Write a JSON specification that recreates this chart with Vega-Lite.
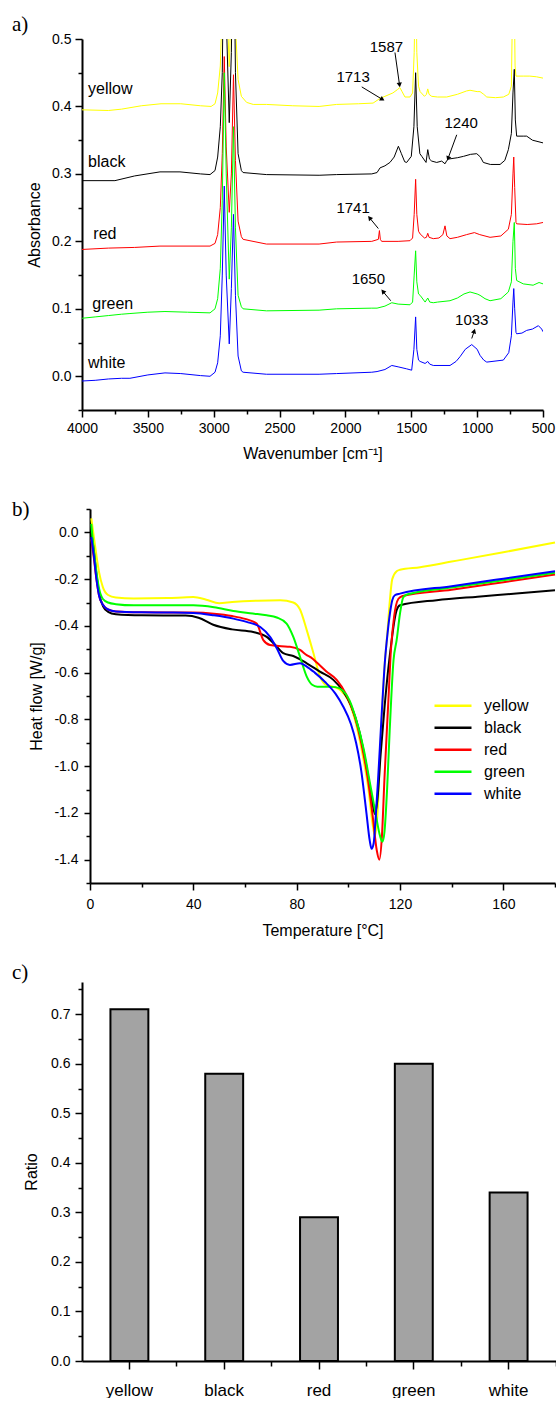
{
  "$schema": "https://vega.github.io/schema/vega-lite/v6.json",
  "padding": {"left": 12, "top": 14, "right": 0, "bottom": 0},
  "autosize": {"type": "pad"},
  "spacing": 99,
  "bounds": "flush",
  "config": {
    "view": {"stroke": null},
    "locale": {"number": {"decimal": ".", "thousands": ",", "grouping": [3], "currency": ["$", ""], "minus": "-"}},
    "axis": {"grid": false, "labelFlush": false, "domainColor": "#000", "domainWidth": 2, "tickColor": "#000", "tickWidth": 1.5, "labelColor": "#000", "labelFont": "Liberation Sans", "labelFontSize": 14, "titleFont": "Liberation Sans", "titleFontSize": 16, "titleFontWeight": "normal", "titleColor": "#000"},
    "title": {"font": "Liberation Serif", "fontSize": 21, "fontWeight": "normal", "color": "#000", "anchor": "start", "frame": "group", "baseline": "alphabetic"},
    "text": {"font": "Liberation Sans", "color": "#000"}
  },
  "resolve": {"scale": {"color": "independent"}, "legend": {"color": "independent"}},
  "datasets": {
    "ir": [
      {"s":"yellow","wn":4000,"a":0.395},{"s":"yellow","wn":3800,"a":0.394},{"s":"yellow","wn":3700,"a":0.396},{"s":"yellow","wn":3550,"a":0.401},{"s":"yellow","wn":3400,"a":0.404},{"s":"yellow","wn":3250,"a":0.404},{"s":"yellow","wn":3100,"a":0.401},{"s":"yellow","wn":3020,"a":0.4},{"s":"yellow","wn":2990,"a":0.404},{"s":"yellow","wn":2970,"a":0.42},{"s":"yellow","wn":2950,"a":0.46},{"s":"yellow","wn":2935,"a":0.55},{"s":"yellow","wn":2920,"a":0.75},{"s":"yellow","wn":2900,"a":0.55},{"s":"yellow","wn":2882,"a":0.459},{"s":"yellow","wn":2868,"a":0.55},{"s":"yellow","wn":2850,"a":0.75},{"s":"yellow","wn":2835,"a":0.52},{"s":"yellow","wn":2815,"a":0.44},{"s":"yellow","wn":2790,"a":0.415},{"s":"yellow","wn":2750,"a":0.406},{"s":"yellow","wn":2700,"a":0.403},{"s":"yellow","wn":2600,"a":0.403},{"s":"yellow","wn":2400,"a":0.401},{"s":"yellow","wn":2200,"a":0.4},{"s":"yellow","wn":2067,"a":0.403},{"s":"yellow","wn":1900,"a":0.404},{"s":"yellow","wn":1790,"a":0.405},{"s":"yellow","wn":1737,"a":0.412},{"s":"yellow","wn":1700,"a":0.415},{"s":"yellow","wn":1640,"a":0.42},{"s":"yellow","wn":1605,"a":0.425},{"s":"yellow","wn":1587,"a":0.428},{"s":"yellow","wn":1570,"a":0.422},{"s":"yellow","wn":1548,"a":0.414},{"s":"yellow","wn":1510,"a":0.414},{"s":"yellow","wn":1490,"a":0.42},{"s":"yellow","wn":1478,"a":0.48},{"s":"yellow","wn":1467,"a":0.6},{"s":"yellow","wn":1458,"a":0.48},{"s":"yellow","wn":1445,"a":0.43},{"s":"yellow","wn":1433,"a":0.422},{"s":"yellow","wn":1400,"a":0.415},{"s":"yellow","wn":1385,"a":0.418},{"s":"yellow","wn":1375,"a":0.426},{"s":"yellow","wn":1365,"a":0.418},{"s":"yellow","wn":1345,"a":0.415},{"s":"yellow","wn":1300,"a":0.414},{"s":"yellow","wn":1231,"a":0.414},{"s":"yellow","wn":1150,"a":0.418},{"s":"yellow","wn":1080,"a":0.423},{"s":"yellow","wn":1054,"a":0.424},{"s":"yellow","wn":1000,"a":0.422},{"s":"yellow","wn":978,"a":0.422},{"s":"yellow","wn":950,"a":0.418},{"s":"yellow","wn":927,"a":0.414},{"s":"yellow","wn":860,"a":0.413},{"s":"yellow","wn":801,"a":0.414},{"s":"yellow","wn":760,"a":0.418},{"s":"yellow","wn":740,"a":0.43},{"s":"yellow","wn":728,"a":0.6},{"s":"yellow","wn":720,"a":0.6},{"s":"yellow","wn":712,"a":0.46},{"s":"yellow","wn":705,"a":0.445},{"s":"yellow","wn":650,"a":0.445},{"s":"yellow","wn":600,"a":0.445},{"s":"yellow","wn":550,"a":0.444},{"s":"yellow","wn":500,"a":0.442},
      {"s":"black","wn":4000,"a":0.29},{"s":"black","wn":3750,"a":0.29},{"s":"black","wn":3600,"a":0.297},{"s":"black","wn":3408,"a":0.303},{"s":"black","wn":3256,"a":0.303},{"s":"black","wn":3100,"a":0.3},{"s":"black","wn":3028,"a":0.299},{"s":"black","wn":2990,"a":0.305},{"s":"black","wn":2970,"a":0.325},{"s":"black","wn":2950,"a":0.37},{"s":"black","wn":2935,"a":0.45},{"s":"black","wn":2920,"a":0.7},{"s":"black","wn":2900,"a":0.5},{"s":"black","wn":2882,"a":0.376},{"s":"black","wn":2866,"a":0.48},{"s":"black","wn":2850,"a":0.7},{"s":"black","wn":2835,"a":0.45},{"s":"black","wn":2815,"a":0.33},{"s":"black","wn":2790,"a":0.305},{"s":"black","wn":2777,"a":0.302},{"s":"black","wn":2600,"a":0.299},{"s":"black","wn":2200,"a":0.298},{"s":"black","wn":2067,"a":0.299},{"s":"black","wn":1800,"a":0.3},{"s":"black","wn":1760,"a":0.302},{"s":"black","wn":1737,"a":0.309},{"s":"black","wn":1700,"a":0.312},{"s":"black","wn":1662,"a":0.317},{"s":"black","wn":1630,"a":0.325},{"s":"black","wn":1598,"a":0.341},{"s":"black","wn":1575,"a":0.33},{"s":"black","wn":1550,"a":0.318},{"s":"black","wn":1535,"a":0.317},{"s":"black","wn":1500,"a":0.326},{"s":"black","wn":1480,"a":0.37},{"s":"black","wn":1467,"a":0.45},{"s":"black","wn":1455,"a":0.37},{"s":"black","wn":1435,"a":0.33},{"s":"black","wn":1420,"a":0.326},{"s":"black","wn":1388,"a":0.317},{"s":"black","wn":1375,"a":0.336},{"s":"black","wn":1362,"a":0.322},{"s":"black","wn":1345,"a":0.319},{"s":"black","wn":1307,"a":0.317},{"s":"black","wn":1269,"a":0.319},{"s":"black","wn":1244,"a":0.315},{"s":"black","wn":1230,"a":0.32},{"s":"black","wn":1218,"a":0.322},{"s":"black","wn":1150,"a":0.324},{"s":"black","wn":1104,"a":0.326},{"s":"black","wn":1050,"a":0.329},{"s":"black","wn":1003,"a":0.33},{"s":"black","wn":975,"a":0.325},{"s":"black","wn":953,"a":0.317},{"s":"black","wn":900,"a":0.314},{"s":"black","wn":826,"a":0.314},{"s":"black","wn":790,"a":0.32},{"s":"black","wn":763,"a":0.336},{"s":"black","wn":740,"a":0.36},{"s":"black","wn":728,"a":0.42},{"s":"black","wn":718,"a":0.455},{"s":"black","wn":710,"a":0.38},{"s":"black","wn":700,"a":0.356},{"s":"black","wn":650,"a":0.356},{"s":"black","wn":624,"a":0.356},{"s":"black","wn":580,"a":0.35},{"s":"black","wn":500,"a":0.346},
      {"s":"red","wn":4000,"a":0.188},{"s":"red","wn":3800,"a":0.19},{"s":"red","wn":3600,"a":0.191},{"s":"red","wn":3408,"a":0.193},{"s":"red","wn":3028,"a":0.193},{"s":"red","wn":2990,"a":0.197},{"s":"red","wn":2970,"a":0.21},{"s":"red","wn":2950,"a":0.25},{"s":"red","wn":2935,"a":0.33},{"s":"red","wn":2920,"a":0.474},{"s":"red","wn":2905,"a":0.34},{"s":"red","wn":2882,"a":0.243},{"s":"red","wn":2866,"a":0.3},{"s":"red","wn":2850,"a":0.447},{"s":"red","wn":2835,"a":0.32},{"s":"red","wn":2815,"a":0.23},{"s":"red","wn":2790,"a":0.207},{"s":"red","wn":2777,"a":0.203},{"s":"red","wn":2600,"a":0.196},{"s":"red","wn":2200,"a":0.196},{"s":"red","wn":2067,"a":0.199},{"s":"red","wn":1800,"a":0.2},{"s":"red","wn":1750,"a":0.203},{"s":"red","wn":1742,"a":0.216},{"s":"red","wn":1735,"a":0.203},{"s":"red","wn":1725,"a":0.2},{"s":"red","wn":1600,"a":0.2},{"s":"red","wn":1510,"a":0.201},{"s":"red","wn":1490,"a":0.205},{"s":"red","wn":1478,"a":0.24},{"s":"red","wn":1467,"a":0.292},{"s":"red","wn":1458,"a":0.24},{"s":"red","wn":1445,"a":0.215},{"s":"red","wn":1433,"a":0.211},{"s":"red","wn":1400,"a":0.205},{"s":"red","wn":1385,"a":0.206},{"s":"red","wn":1375,"a":0.212},{"s":"red","wn":1365,"a":0.206},{"s":"red","wn":1333,"a":0.204},{"s":"red","wn":1290,"a":0.205},{"s":"red","wn":1260,"a":0.21},{"s":"red","wn":1244,"a":0.223},{"s":"red","wn":1230,"a":0.208},{"s":"red","wn":1206,"a":0.204},{"s":"red","wn":1150,"a":0.206},{"s":"red","wn":1080,"a":0.21},{"s":"red","wn":1021,"a":0.213},{"s":"red","wn":980,"a":0.21},{"s":"red","wn":902,"a":0.206},{"s":"red","wn":820,"a":0.208},{"s":"red","wn":763,"a":0.218},{"s":"red","wn":740,"a":0.24},{"s":"red","wn":728,"a":0.3},{"s":"red","wn":722,"a":0.325},{"s":"red","wn":715,"a":0.28},{"s":"red","wn":705,"a":0.228},{"s":"red","wn":700,"a":0.226},{"s":"red","wn":620,"a":0.225},{"s":"red","wn":548,"a":0.226},{"s":"red","wn":500,"a":0.228},
      {"s":"green","wn":4000,"a":0.086},{"s":"green","wn":3900,"a":0.088},{"s":"green","wn":3800,"a":0.09},{"s":"green","wn":3700,"a":0.092},{"s":"green","wn":3636,"a":0.093},{"s":"green","wn":3500,"a":0.095},{"s":"green","wn":3370,"a":0.096},{"s":"green","wn":3200,"a":0.095},{"s":"green","wn":3028,"a":0.094},{"s":"green","wn":2990,"a":0.1},{"s":"green","wn":2970,"a":0.115},{"s":"green","wn":2950,"a":0.16},{"s":"green","wn":2935,"a":0.26},{"s":"green","wn":2920,"a":0.45},{"s":"green","wn":2905,"a":0.3},{"s":"green","wn":2882,"a":0.144},{"s":"green","wn":2866,"a":0.22},{"s":"green","wn":2850,"a":0.37},{"s":"green","wn":2835,"a":0.22},{"s":"green","wn":2815,"a":0.12},{"s":"green","wn":2790,"a":0.103},{"s":"green","wn":2777,"a":0.1},{"s":"green","wn":2600,"a":0.097},{"s":"green","wn":2200,"a":0.098},{"s":"green","wn":2067,"a":0.1},{"s":"green","wn":1800,"a":0.101},{"s":"green","wn":1760,"a":0.101},{"s":"green","wn":1700,"a":0.104},{"s":"green","wn":1648,"a":0.109},{"s":"green","wn":1600,"a":0.107},{"s":"green","wn":1510,"a":0.106},{"s":"green","wn":1490,"a":0.11},{"s":"green","wn":1478,"a":0.15},{"s":"green","wn":1467,"a":0.186},{"s":"green","wn":1458,"a":0.14},{"s":"green","wn":1445,"a":0.122},{"s":"green","wn":1433,"a":0.12},{"s":"green","wn":1395,"a":0.11},{"s":"green","wn":1375,"a":0.116},{"s":"green","wn":1360,"a":0.11},{"s":"green","wn":1333,"a":0.109},{"s":"green","wn":1300,"a":0.11},{"s":"green","wn":1206,"a":0.112},{"s":"green","wn":1150,"a":0.116},{"s":"green","wn":1100,"a":0.122},{"s":"green","wn":1054,"a":0.125},{"s":"green","wn":1000,"a":0.122},{"s":"green","wn":978,"a":0.12},{"s":"green","wn":940,"a":0.115},{"s":"green","wn":902,"a":0.112},{"s":"green","wn":820,"a":0.115},{"s":"green","wn":763,"a":0.125},{"s":"green","wn":740,"a":0.14},{"s":"green","wn":728,"a":0.2},{"s":"green","wn":718,"a":0.228},{"s":"green","wn":710,"a":0.16},{"s":"green","wn":700,"a":0.142},{"s":"green","wn":650,"a":0.137},{"s":"green","wn":575,"a":0.135},{"s":"green","wn":530,"a":0.139},{"s":"green","wn":500,"a":0.137},
      {"s":"white","wn":4000,"a":-0.007},{"s":"white","wn":3900,"a":-0.006},{"s":"white","wn":3800,"a":-0.004},{"s":"white","wn":3700,"a":-0.003},{"s":"white","wn":3636,"a":-0.003},{"s":"white","wn":3500,"a":0.002},{"s":"white","wn":3370,"a":0.005},{"s":"white","wn":3250,"a":0.004},{"s":"white","wn":3100,"a":0.001},{"s":"white","wn":3028,"a":0.0},{"s":"white","wn":2990,"a":0.006},{"s":"white","wn":2970,"a":0.02},{"s":"white","wn":2950,"a":0.06},{"s":"white","wn":2935,"a":0.15},{"s":"white","wn":2920,"a":0.282},{"s":"white","wn":2905,"a":0.15},{"s":"white","wn":2882,"a":0.048},{"s":"white","wn":2866,"a":0.13},{"s":"white","wn":2850,"a":0.24},{"s":"white","wn":2835,"a":0.12},{"s":"white","wn":2815,"a":0.03},{"s":"white","wn":2790,"a":0.008},{"s":"white","wn":2777,"a":0.006},{"s":"white","wn":2600,"a":0.003},{"s":"white","wn":2200,"a":0.003},{"s":"white","wn":2067,"a":0.004},{"s":"white","wn":1800,"a":0.006},{"s":"white","wn":1760,"a":0.007},{"s":"white","wn":1700,"a":0.01},{"s":"white","wn":1648,"a":0.016},{"s":"white","wn":1600,"a":0.014},{"s":"white","wn":1535,"a":0.011},{"s":"white","wn":1497,"a":0.009},{"s":"white","wn":1480,"a":0.04},{"s":"white","wn":1467,"a":0.088},{"s":"white","wn":1458,"a":0.04},{"s":"white","wn":1445,"a":0.024},{"s":"white","wn":1433,"a":0.022},{"s":"white","wn":1395,"a":0.019},{"s":"white","wn":1375,"a":0.022},{"s":"white","wn":1360,"a":0.018},{"s":"white","wn":1333,"a":0.016},{"s":"white","wn":1206,"a":0.016},{"s":"white","wn":1160,"a":0.022},{"s":"white","wn":1130,"a":0.029},{"s":"white","wn":1090,"a":0.04},{"s":"white","wn":1041,"a":0.047},{"s":"white","wn":1000,"a":0.04},{"s":"white","wn":978,"a":0.031},{"s":"white","wn":950,"a":0.024},{"s":"white","wn":927,"a":0.021},{"s":"white","wn":801,"a":0.024},{"s":"white","wn":760,"a":0.035},{"s":"white","wn":740,"a":0.06},{"s":"white","wn":728,"a":0.11},{"s":"white","wn":722,"a":0.13},{"s":"white","wn":715,"a":0.1},{"s":"white","wn":705,"a":0.065},{"s":"white","wn":700,"a":0.063},{"s":"white","wn":660,"a":0.064},{"s":"white","wn":624,"a":0.068},{"s":"white","wn":580,"a":0.07},{"s":"white","wn":535,"a":0.075},{"s":"white","wn":510,"a":0.07},{"s":"white","wn":500,"a":0.066}
    ],
    "irlab": [
      {"label":"yellow","wn":3954,"a":0.4265},
      {"label":"black","wn":3954,"a":0.317},
      {"label":"red","wn":3914,"a":0.211},
      {"label":"green","wn":3922,"a":0.107},
      {"label":"white","wn":3954,"a":0.019}
    ],
    "irnote": [
      {"label":"1587","wn":1689,"a":0.488},
      {"label":"1713","wn":1942,"a":0.443},
      {"label":"1240","wn":1121,"a":0.375},
      {"label":"1741","wn":1942,"a":0.25},
      {"label":"1650","wn":1826,"a":0.144},
      {"label":"1033","wn":1041,"a":0.084}
    ],
    "arrows": [
      {"label":"1587","wn1":1624,"a1":0.48,"wn2":1590,"a2":0.433},
      {"label":"1713","wn1":1876,"a1":0.429,"wn2":1724,"a2":0.411},
      {"label":"1240","wn1":1155,"a1":0.358,"wn2":1219,"a2":0.324},
      {"label":"1741","wn1":1750,"a1":0.219,"wn2":1813,"a2":0.234},
      {"label":"1650","wn1":1656,"a1":0.112,"wn2":1712,"a2":0.125},
      {"label":"1033","wn1":1041,"a1":0.056,"wn2":1024,"a2":0.066}
    ],
    "dsc": [
      {"s":"yellow","T":0.5,"v":0.06},{"s":"yellow","T":1.5,"v":-0.02},{"s":"yellow","T":2.5,"v":-0.1},{"s":"yellow","T":3.5,"v":-0.17},{"s":"yellow","T":5,"v":-0.235},{"s":"yellow","T":7,"v":-0.268},{"s":"yellow","T":10,"v":-0.279},{"s":"yellow","T":17,"v":-0.283},{"s":"yellow","T":30,"v":-0.281},{"s":"yellow","T":40,"v":-0.277},{"s":"yellow","T":45,"v":-0.288},{"s":"yellow","T":50,"v":-0.303},{"s":"yellow","T":55,"v":-0.298},{"s":"yellow","T":65,"v":-0.292},{"s":"yellow","T":73.6,"v":-0.29},{"s":"yellow","T":78.7,"v":-0.3},{"s":"yellow","T":81.3,"v":-0.33},{"s":"yellow","T":83.9,"v":-0.418},{"s":"yellow","T":86.5,"v":-0.517},{"s":"yellow","T":89,"v":-0.615},{"s":"yellow","T":91,"v":-0.65},{"s":"yellow","T":94,"v":-0.66},{"s":"yellow","T":97,"v":-0.675},{"s":"yellow","T":100,"v":-0.72},{"s":"yellow","T":103,"v":-0.82},{"s":"yellow","T":105.5,"v":-0.95},{"s":"yellow","T":107.8,"v":-1.1},{"s":"yellow","T":109.3,"v":-1.24},{"s":"yellow","T":110.3,"v":-1.298},{"s":"yellow","T":111.3,"v":-1.2},{"s":"yellow","T":112.3,"v":-0.95},{"s":"yellow","T":113.3,"v":-0.72},{"s":"yellow","T":114.2,"v":-0.546},{"s":"yellow","T":114.9,"v":-0.461},{"s":"yellow","T":116,"v":-0.3},{"s":"yellow","T":117,"v":-0.2},{"s":"yellow","T":118.7,"v":-0.166},{"s":"yellow","T":120,"v":-0.16},{"s":"yellow","T":127.8,"v":-0.149},{"s":"yellow","T":140,"v":-0.125},{"s":"yellow","T":160,"v":-0.085},{"s":"yellow","T":180,"v":-0.043},
      {"s":"black","T":0.5,"v":0.0},{"s":"black","T":1.5,"v":-0.08},{"s":"black","T":2.5,"v":-0.18},{"s":"black","T":3.5,"v":-0.26},{"s":"black","T":5,"v":-0.315},{"s":"black","T":7,"v":-0.34},{"s":"black","T":10,"v":-0.35},{"s":"black","T":20,"v":-0.355},{"s":"black","T":37,"v":-0.356},{"s":"black","T":42,"v":-0.365},{"s":"black","T":47.7,"v":-0.395},{"s":"black","T":55,"v":-0.415},{"s":"black","T":63.2,"v":-0.426},{"s":"black","T":68.4,"v":-0.447},{"s":"black","T":72.3,"v":-0.489},{"s":"black","T":74.8,"v":-0.517},{"s":"black","T":78.7,"v":-0.529},{"s":"black","T":83.9,"v":-0.56},{"s":"black","T":89,"v":-0.596},{"s":"black","T":94.2,"v":-0.631},{"s":"black","T":98,"v":-0.68},{"s":"black","T":101,"v":-0.74},{"s":"black","T":104,"v":-0.84},{"s":"black","T":106.5,"v":-0.97},{"s":"black","T":108.5,"v":-1.1},{"s":"black","T":109.7,"v":-1.18},{"s":"black","T":110.3,"v":-1.205},{"s":"black","T":111.2,"v":-1.15},{"s":"black","T":112.5,"v":-0.95},{"s":"black","T":114,"v":-0.75},{"s":"black","T":115.5,"v":-0.58},{"s":"black","T":116.8,"v":-0.46},{"s":"black","T":117.8,"v":-0.38},{"s":"black","T":118.7,"v":-0.333},{"s":"black","T":120,"v":-0.312},{"s":"black","T":134.2,"v":-0.29},{"s":"black","T":150,"v":-0.275},{"s":"black","T":165,"v":-0.262},{"s":"black","T":180,"v":-0.248},
      {"s":"red","T":0.5,"v":-0.03},{"s":"red","T":1.5,"v":-0.11},{"s":"red","T":2.5,"v":-0.2},{"s":"red","T":3.5,"v":-0.27},{"s":"red","T":5,"v":-0.31},{"s":"red","T":7,"v":-0.33},{"s":"red","T":10,"v":-0.338},{"s":"red","T":20,"v":-0.342},{"s":"red","T":40,"v":-0.343},{"s":"red","T":48,"v":-0.348},{"s":"red","T":55,"v":-0.358},{"s":"red","T":60,"v":-0.37},{"s":"red","T":64.5,"v":-0.39},{"s":"red","T":67.1,"v":-0.461},{"s":"red","T":69.7,"v":-0.482},{"s":"red","T":74,"v":-0.487},{"s":"red","T":77.4,"v":-0.489},{"s":"red","T":81.3,"v":-0.503},{"s":"red","T":83.9,"v":-0.525},{"s":"red","T":85.5,"v":-0.535},{"s":"red","T":87.8,"v":-0.557},{"s":"red","T":91.5,"v":-0.595},{"s":"red","T":95.5,"v":-0.631},{"s":"red","T":99,"v":-0.69},{"s":"red","T":102,"v":-0.77},{"s":"red","T":105,"v":-0.9},{"s":"red","T":107.5,"v":-1.05},{"s":"red","T":109.5,"v":-1.22},{"s":"red","T":111,"v":-1.36},{"s":"red","T":112,"v":-1.4},{"s":"red","T":113,"v":-1.3},{"s":"red","T":114,"v":-1.05},{"s":"red","T":115.5,"v":-0.72},{"s":"red","T":116.5,"v":-0.5},{"s":"red","T":117.7,"v":-0.362},{"s":"red","T":119.4,"v":-0.284},{"s":"red","T":121,"v":-0.272},{"s":"red","T":140,"v":-0.245},{"s":"red","T":160,"v":-0.213},{"s":"red","T":180,"v":-0.18},
      {"s":"green","T":0.5,"v":0.036},{"s":"green","T":1.5,"v":-0.08},{"s":"green","T":2.5,"v":-0.17},{"s":"green","T":3.5,"v":-0.24},{"s":"green","T":5,"v":-0.285},{"s":"green","T":7,"v":-0.3},{"s":"green","T":10,"v":-0.307},{"s":"green","T":17,"v":-0.312},{"s":"green","T":40,"v":-0.312},{"s":"green","T":48,"v":-0.32},{"s":"green","T":55.5,"v":-0.336},{"s":"green","T":63,"v":-0.347},{"s":"green","T":68.4,"v":-0.355},{"s":"green","T":72.3,"v":-0.364},{"s":"green","T":76.1,"v":-0.39},{"s":"green","T":78.7,"v":-0.447},{"s":"green","T":81.3,"v":-0.532},{"s":"green","T":83.9,"v":-0.617},{"s":"green","T":86,"v":-0.652},{"s":"green","T":88,"v":-0.66},{"s":"green","T":92,"v":-0.66},{"s":"green","T":95,"v":-0.662},{"s":"green","T":98,"v":-0.678},{"s":"green","T":100.5,"v":-0.72},{"s":"green","T":103,"v":-0.8},{"s":"green","T":106,"v":-0.93},{"s":"green","T":108.5,"v":-1.08},{"s":"green","T":110.5,"v":-1.2},{"s":"green","T":112.3,"v":-1.3},{"s":"green","T":113.2,"v":-1.323},{"s":"green","T":114,"v":-1.28},{"s":"green","T":115,"v":-1.1},{"s":"green","T":116,"v":-0.85},{"s":"green","T":117.5,"v":-0.546},{"s":"green","T":118.7,"v":-0.461},{"s":"green","T":120,"v":-0.347},{"s":"green","T":121.3,"v":-0.277},{"s":"green","T":123,"v":-0.265},{"s":"green","T":140,"v":-0.236},{"s":"green","T":160,"v":-0.205},{"s":"green","T":180,"v":-0.173},
      {"s":"white","T":0.5,"v":-0.02},{"s":"white","T":1.5,"v":-0.1},{"s":"white","T":2.5,"v":-0.2},{"s":"white","T":3.5,"v":-0.27},{"s":"white","T":5,"v":-0.31},{"s":"white","T":7,"v":-0.33},{"s":"white","T":10,"v":-0.338},{"s":"white","T":20,"v":-0.342},{"s":"white","T":30,"v":-0.343},{"s":"white","T":40,"v":-0.345},{"s":"white","T":48,"v":-0.355},{"s":"white","T":55.5,"v":-0.369},{"s":"white","T":60.6,"v":-0.383},{"s":"white","T":65.8,"v":-0.404},{"s":"white","T":69.7,"v":-0.447},{"s":"white","T":72.3,"v":-0.496},{"s":"white","T":74.8,"v":-0.55},{"s":"white","T":77.4,"v":-0.567},{"s":"white","T":81.3,"v":-0.56},{"s":"white","T":83.9,"v":-0.574},{"s":"white","T":87,"v":-0.6},{"s":"white","T":91,"v":-0.64},{"s":"white","T":95,"v":-0.69},{"s":"white","T":98,"v":-0.745},{"s":"white","T":101,"v":-0.82},{"s":"white","T":103,"v":-0.9},{"s":"white","T":105,"v":-1.02},{"s":"white","T":107,"v":-1.2},{"s":"white","T":108.3,"v":-1.32},{"s":"white","T":109,"v":-1.354},{"s":"white","T":109.8,"v":-1.33},{"s":"white","T":110.7,"v":-1.2},{"s":"white","T":111.5,"v":-1.06},{"s":"white","T":112.8,"v":-0.8},{"s":"white","T":114.2,"v":-0.546},{"s":"white","T":115.2,"v":-0.43},{"s":"white","T":116.1,"v":-0.347},{"s":"white","T":117,"v":-0.29},{"s":"white","T":118,"v":-0.269},{"s":"white","T":120,"v":-0.262},{"s":"white","T":140,"v":-0.23},{"s":"white","T":160,"v":-0.198},{"s":"white","T":180,"v":-0.166}
    ],
    "ratio": [
      {"sample":"yellow","ratio":0.71},
      {"sample":"black","ratio":0.58},
      {"sample":"red","ratio":0.29},
      {"sample":"green","ratio":0.6},
      {"sample":"white","ratio":0.34}
    ]
  },
  "vconcat": [
    {
      "width": 461,
      "height": 371,
      "title": {"text": "a)", "dx": -70, "offset": -3},
      "resolve": {"axis": {"x": "independent", "y": "independent"}},
      "layer": [
        {
          "data": {"name": "ir"},
          "mark": {"type": "line", "strokeWidth": 1, "clip": true},
          "encoding": {
            "x": {"field": "wn", "type": "quantitative", "scale": {"domain": [4000, 500], "nice": false, "zero": false},
                  "axis": {"orient": "bottom", "values": [4000, 3500, 3000, 2500, 2000, 1500, 1000, 500], "format": "d", "tickSize": 7, "labelPadding": 4, "title": "Wavenumber [cm⁻¹]", "titlePadding": 10}},
            "y": {"field": "a", "type": "quantitative", "scale": {"domain": [-0.05, 0.5], "nice": false, "zero": false},
                  "axis": {"orient": "left", "values": [0, 0.1, 0.2, 0.3, 0.4, 0.5], "format": ".1f", "tickSize": 7, "labelPadding": 4, "title": "Absorbance", "titlePadding": 9}},
            "color": {"field": "s", "type": "nominal", "scale": {"domain": ["yellow", "black", "red", "green", "white"], "range": ["#ffff00", "#000000", "#ff0000", "#00ff00", "#0000ff"]}, "legend": null}
          }
        },
        {
          "data": {"name": "ir"},
          "mark": {"type": "point", "opacity": 0, "clip": true},
          "encoding": {
            "x": {"field": "wn", "type": "quantitative", "scale": {"domain": [4000, 500], "nice": false, "zero": false},
                  "axis": {"orient": "bottom", "values": [3750, 3250, 2750, 2250, 1750, 1250, 750], "labels": false, "domain": false, "tickSize": 4, "title": null}},
            "y": {"field": "a", "type": "quantitative", "scale": {"domain": [-0.05, 0.5], "nice": false, "zero": false},
                  "axis": {"orient": "left", "values": [-0.05, 0.05, 0.15, 0.25, 0.35, 0.45], "labels": false, "domain": false, "tickSize": 4, "title": null}}
          }
        },
        {
          "data": {"name": "irlab"},
          "mark": {"type": "text", "align": "left", "baseline": "middle", "fontSize": 16},
          "encoding": {
            "x": {"field": "wn", "type": "quantitative", "scale": {"domain": [4000, 500], "nice": false, "zero": false}, "axis": null},
            "y": {"field": "a", "type": "quantitative", "scale": {"domain": [-0.05, 0.5], "nice": false, "zero": false}, "axis": null},
            "text": {"field": "label"}
          }
        },
        {
          "data": {"name": "irnote"},
          "mark": {"type": "text", "align": "center", "baseline": "middle", "fontSize": 15},
          "encoding": {
            "x": {"field": "wn", "type": "quantitative", "scale": {"domain": [4000, 500], "nice": false, "zero": false}, "axis": null},
            "y": {"field": "a", "type": "quantitative", "scale": {"domain": [-0.05, 0.5], "nice": false, "zero": false}, "axis": null},
            "text": {"field": "label"}
          }
        },
        {
          "data": {"name": "arrows"},
          "mark": {"type": "rule", "color": "#000", "strokeWidth": 1},
          "encoding": {
            "x": {"field": "wn1", "type": "quantitative", "scale": {"domain": [4000, 500], "nice": false, "zero": false}, "axis": null},
            "y": {"field": "a1", "type": "quantitative", "scale": {"domain": [-0.05, 0.5], "nice": false, "zero": false}, "axis": null},
            "x2": {"field": "wn2"},
            "y2": {"field": "a2"}
          }
        },
        {
          "data": {"name": "arrows"},
          "mark": {"type": "point", "shape": "triangle", "filled": true, "color": "#000", "size": 28, "opacity": 1},
          "encoding": {
            "x": {"field": "wn2", "type": "quantitative", "scale": {"domain": [4000, 500], "nice": false, "zero": false}, "axis": null},
            "y": {"field": "a2", "type": "quantitative", "scale": {"domain": [-0.05, 0.5], "nice": false, "zero": false}, "axis": null},
            "angle": {"condition": [
              {"test": "datum.label === '1587'", "value": 172},
              {"test": "datum.label === '1713'", "value": 121},
              {"test": "datum.label === '1240'", "value": 200},
              {"test": "datum.label === '1741'", "value": 320},
              {"test": "datum.label === '1650'", "value": 320}
            ], "value": 18}
          }
        }
      ]
    },
    {
      "width": 474,
      "height": 374,
      "title": {"text": "b)", "dx": -70, "offset": -12},
      "resolve": {"axis": {"x": "independent", "y": "independent"}},
      "layer": [
        {
          "data": {"name": "dsc"},
          "mark": {"type": "line", "strokeWidth": 2, "interpolate": "monotone", "clip": true},
          "encoding": {
            "x": {"field": "T", "type": "quantitative", "scale": {"domain": [0, 180], "range": [8, 473], "nice": false, "zero": false},
                  "axis": {"orient": "bottom", "values": [0, 40, 80, 120, 160], "format": "d", "tickSize": 7, "labelPadding": 7, "title": "Temperature [°C]", "titlePadding": 11}},
            "y": {"field": "v", "type": "quantitative", "scale": {"domain": [-1.5, 0.1], "nice": false, "zero": false},
                  "axis": {"orient": "left", "offset": -8, "values": [-1.4, -1.2, -1.0, -0.8, -0.6, -0.4, -0.2, 0.0], "format": ".1f", "tickSize": 6, "labelPadding": 6, "title": "Heat flow [W/g]", "titlePadding": 9}},
            "color": {"field": "s", "type": "nominal", "scale": {"domain": ["yellow", "black", "red", "green", "white"], "range": ["#ffff00", "#000000", "#ff0000", "#00ff00", "#0000ff"]},
                      "legend": {"title": null, "orient": "none", "legendX": 351, "legendY": 186, "padding": 0, "symbolType": "stroke", "symbolSize": 1369, "symbolStrokeWidth": 2.5, "clipHeight": 21.5, "rowPadding": 0, "labelOffset": 11, "labelFont": "Liberation Sans", "labelFontSize": 16, "labelColor": "#000"}}
          }
        },
        {
          "data": {"name": "dsc"},
          "mark": {"type": "point", "opacity": 0, "clip": true},
          "encoding": {
            "x": {"field": "T", "type": "quantitative", "scale": {"domain": [0, 180], "range": [8, 473], "nice": false, "zero": false},
                  "axis": {"orient": "bottom", "values": [20, 60, 100, 140, 180], "labels": false, "domain": false, "tickSize": 4, "title": null}},
            "y": {"field": "v", "type": "quantitative", "scale": {"domain": [-1.5, 0.1], "nice": false, "zero": false},
                  "axis": {"orient": "left", "offset": -8, "values": [-1.5, -1.3, -1.1, -0.9, -0.7, -0.5, -0.3, -0.1, 0.1], "labels": false, "domain": false, "tickSize": 4, "title": null}}
          }
        }
      ]
    },
    {
      "width": 474,
      "height": 379,
      "title": {"text": "c)", "dx": -70, "offset": -1},
      "resolve": {"axis": {"x": "independent", "y": "independent"}},
      "data": {"name": "ratio"},
      "layer": [
        {
          "mark": {"type": "bar", "fill": "#a3a3a3", "stroke": "#000", "strokeWidth": 2},
          "encoding": {
            "x": {"field": "sample", "type": "nominal", "sort": null, "scale": {"paddingInner": 0.6, "paddingOuter": 0.3},
                  "axis": {"orient": "bottom", "labelAngle": 0, "tickSize": 8, "labelPadding": 13, "labelFontSize": 17, "title": null}},
            "y": {"field": "ratio", "type": "quantitative", "scale": {"domain": [0, 0.765], "nice": false, "zero": false},
                  "axis": {"orient": "left", "values": [0, 0.1, 0.2, 0.3, 0.4, 0.5, 0.6, 0.7], "format": ".1f", "tickSize": 7, "labelPadding": 5, "title": "Ratio", "titlePadding": 11}}
          }
        },
        {
          "mark": {"type": "bar", "opacity": 0, "clip": true},
          "encoding": {
            "x": {"field": "sample", "type": "nominal", "sort": null, "scale": {"paddingInner": 0.6, "paddingOuter": 0.3},
                  "axis": {"orient": "bottom", "bandPosition": 1.75, "labels": false, "domain": false, "tickSize": 5, "title": null}},
            "y": {"field": "ratio", "type": "quantitative", "scale": {"domain": [0, 0.765], "nice": false, "zero": false},
                  "axis": {"orient": "left", "values": [0.05, 0.15, 0.25, 0.35, 0.45, 0.55, 0.65, 0.75], "labels": false, "domain": false, "tickSize": 4, "title": null}}
          }
        }
      ]
    }
  ]
}
